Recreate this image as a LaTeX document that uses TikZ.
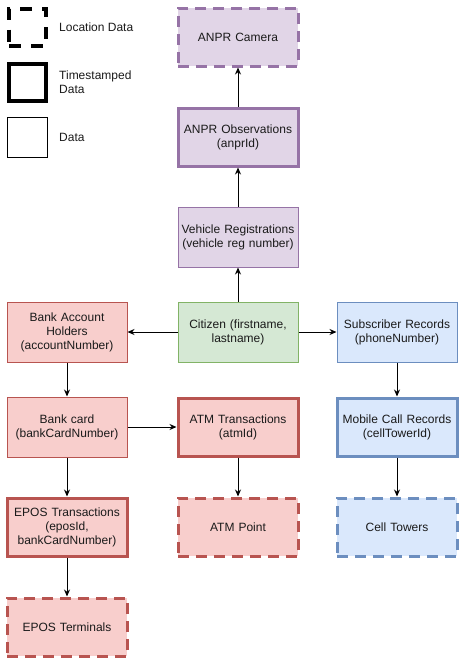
\documentclass[tikz,border=0pt]{standalone}
\usepackage{fontspec}
\setmainfont{Liberation Sans}
\usetikzlibrary{arrows.meta}
\definecolor{pfill}{HTML}{E1D5E7}\definecolor{pdraw}{HTML}{9673A6}
\definecolor{rfill}{HTML}{F8CECC}\definecolor{rdraw}{HTML}{B85450}
\definecolor{gfill}{HTML}{D5E8D4}\definecolor{gdraw}{HTML}{82B366}
\definecolor{bfill}{HTML}{DAE8FC}\definecolor{bdraw}{HTML}{6C8EBF}
\definecolor{txt}{HTML}{1A1A1A}
\tikzset{
  box/.style={rectangle, minimum width=120pt, minimum height=60pt, inner sep=2pt, align=center,
    text width=116pt, font=\fontsize{12}{14}\selectfont, text=txt, line width=1pt},
  timebox/.style={box, line width=3pt, minimum width=118pt, minimum height=58pt},
  locbox/.style={box, line width=3pt, dash pattern=on 11pt off 7pt, minimum width=118pt, minimum height=58pt},
  purple/.style={fill=pfill, draw=pdraw},
  red/.style={fill=rfill, draw=rdraw},
  green/.style={fill=gfill, draw=gdraw},
  blue/.style={fill=bfill, draw=bdraw},
  conn/.style={-{Stealth[length=7pt,width=6pt]}, line width=1pt, draw=black},
  leg/.style={rectangle, draw=black, minimum width=40pt, minimum height=40pt, inner sep=0pt},
  legtext/.style={anchor=west, align=left, font=\fontsize{12}{14}\selectfont, text=txt, inner sep=0pt}
}
\begin{document}
\begin{tikzpicture}[x=1pt, y=-1pt]
\useasboundingbox (0,0) rectangle (465,664);
% legend
\node[leg, line width=4pt, dash pattern=on 12pt off 10pt, minimum width=37pt, minimum height=37pt] (l1) at (27.5,27) {};
\node[leg, line width=4pt, minimum width=37pt, minimum height=37pt] (l2) at (27,82) {};
\node[leg, line width=1pt] (l3) at (27,137) {};
\node[legtext] (t1) at (59,27) {Location Data};
\node[legtext] (t2) at (59,82) {Timestamped\\Data};
\node[legtext] (t3) at (59,137) {Data};
% nodes
\node[locbox, purple] (cam) at (238,37) {ANPR Camera};
\node[timebox, purple] (obs) at (238,137) {ANPR Observations\\(anprId)};
\node[box, purple] (veh) at (238,237) {Vehicle Registrations\\(vehicle reg number)};
\node[box, green] (cit) at (238,332) {Citizen (firstname,\\lastname)};
\node[box, red] (bah) at (67,332) {Bank Account\\Holders\\(accountNumber)};
\node[box, blue] (sub) at (397,332) {Subscriber Records\\(phoneNumber)};
\node[box, red] (card) at (67,427) {Bank card\\(bankCardNumber)};
\node[timebox, red] (atm) at (238,427) {ATM Transactions\\(atmId)};
\node[timebox, blue] (mob) at (397,427) {Mobile Call Records\\(cellTowerId)};
\node[timebox, red] (epos) at (67,527) {EPOS Transactions\\(eposId,\\bankCardNumber)};
\node[locbox, red] (atmp) at (238,527) {ATM Point};
\node[locbox, blue] (cell) at (397,527) {Cell Towers};
\node[locbox, red] (term) at (67,627) {EPOS Terminals};
% connectors
\draw[conn] (cit) -- (veh);
\draw[conn] (veh) -- (obs);
\draw[conn] (obs) -- (cam);
\draw[conn] (cit) -- (bah);
\draw[conn] (cit) -- (sub);
\draw[conn] (bah) -- (card);
\draw[conn] (card) -- (atm);
\draw[conn] (card) -- (epos);
\draw[conn] (epos) -- (term);
\draw[conn] (atm) -- (atmp);
\draw[conn] (sub) -- (mob);
\draw[conn] (mob) -- (cell);
\end{tikzpicture}
\end{document}
